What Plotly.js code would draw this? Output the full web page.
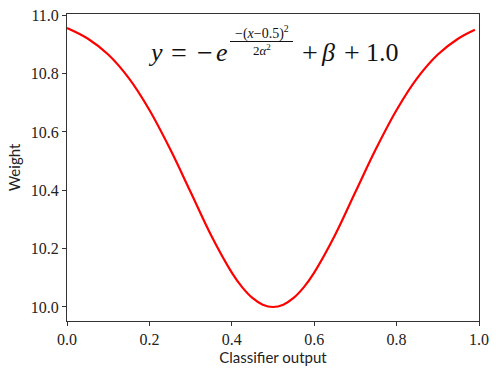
<!DOCTYPE html>
<html><head><meta charset="utf-8">
<script src="https://cdn.plot.ly/plotly-3.0.1.min.js"></script>
<style>html,body{margin:0;padding:0;background:#fff}#c{width:498px;height:374px}</style>
</head><body><div id="c"></div>
<script>
var xVals = [0.00,0.05,0.10,0.15,0.20,0.25,0.30,0.35,0.40,0.425,0.45,0.475,0.50,0.525,0.55,0.575,0.60,0.65,0.70,0.75,0.80,0.85,0.90,0.95,0.99];
var weights = [10.956,10.920,10.865,10.784,10.675,10.542,10.394,10.245,10.118,10.068,10.031,10.008,10.000,10.008,10.031,10.068,10.118,10.245,10.394,10.542,10.675,10.784,10.865,10.920,10.950];
var xTicks = [0.0,0.2,0.4,0.6,0.8,1.0];
var xTickText = ["0.0","0.2","0.4","0.6","0.8","1.0"];
var yTicks = [10.0,10.2,10.4,10.6,10.8,11.0];
var yTickText = ["10.0","10.2","10.4","10.6","10.8","11.0"];

var serif = "Liberation Serif";
var sans = "Lato";
var axisCommon = {showgrid:false, zeroline:false, showline:true, linecolor:'#333', linewidth:1,
  mirror:true, ticks:'outside', ticklen:4, tickwidth:1, tickcolor:'#333',
  tickfont:{family:serif, size:16, color:'#222'}};

var data = [{x:xVals, y:weights, type:'scatter', mode:'lines',
  line:{color:'#ff0000', width:2.2, shape:'spline', smoothing:1.0}, hoverinfo:'none'}];

function px2x(p){ return (p-67)/412; }
function px2y(p){ return (321-p)/307; }
function ann(text, cx, cy, size){
  return {xref:'paper', yref:'paper', x:px2x(cx), y:px2y(cy), xanchor:'center', yanchor:'middle',
    showarrow:false, text:text, font:{family:serif, size:size, color:'#111'}};
}

var layout = {
  width:498, height:374, paper_bgcolor:'#fff', plot_bgcolor:'#fff', showlegend:false,
  margin:{l:67, r:19, t:14, b:53},
  xaxis:Object.assign({}, axisCommon, {range:[0,1], tickvals:xTicks, ticktext:xTickText,
    title:{text:'Classifier output', font:{family:sans, size:15, color:'#222'}, standoff:4}}),
  yaxis:Object.assign({}, axisCommon, {range:[9.952,11.004], tickvals:yTicks, ticktext:yTickText,
    title:{text:'Weight', font:{family:sans, size:15, color:'#222'}, standoff:6}}),
  annotations:[
    ann('<i>y</i>', 155, 52, 26),
    ann('=', 179, 52, 28),
    ann('−', 205, 52, 28),
    ann('<i>e</i>', 222, 52, 26),
    ann('−(<i>x</i>−0.5)<sup>2</sup>', 262, 32, 14),
    ann('2<i>α</i><sup>2</sup>', 262, 49.5, 13),
    ann('+', 310, 52, 28),
    ann('<i>β</i>', 328, 52, 26),
    ann('+', 352, 52, 28),
    ann('1.0', 382, 52, 26)
  ],
  shapes:[{type:'line', xref:'paper', yref:'paper', x0:px2x(230), x1:px2x(293), y0:px2y(41.5), y1:px2y(41.5),
    line:{color:'#111', width:1}}]
};
Plotly.newPlot('c', data, layout, {displayModeBar:false, staticPlot:true});
</script></body></html>
